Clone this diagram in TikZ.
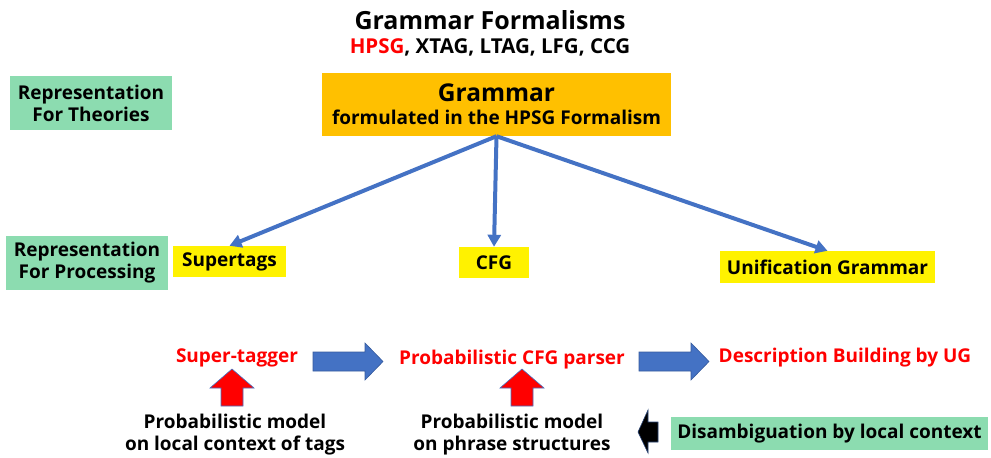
\documentclass[tikz,border=0pt]{standalone}
\usepackage{fontspec}
\setmainfont{Open Sans}
\usepackage{tikz}
\usetikzlibrary{arrows.meta,calc}
\usepackage{xcolor}
\definecolor{boxgreen}{HTML}{8CDCB0}
\definecolor{boxorange}{HTML}{FFC000}
\definecolor{arrowblue}{HTML}{4472C4}

\begin{document}
\begin{tikzpicture}[x=1pt,y=-1pt, >=Stealth,
  font=\fontsize{19}{22}\selectfont\bfseries,
  greenbox/.style={fill=boxgreen,inner sep=0pt,minimum width=162pt,minimum height=54pt,align=center},
  tagbox/.style={fill=yellow,inner sep=0pt,minimum height=31pt},
  redtext/.style={text=red},
  link/.style={arrowblue,line width=4pt,-{Triangle[length=12pt,width=13pt]}}]
\useasboundingbox (0,0) rectangle (991,458);
% top
\node (title) at (490,20) {\fontsize{25}{28}\selectfont Grammar Formalisms};
\node (formalisms) at (490,47) {\fontsize{20.5}{22}\selectfont\textcolor{red}{HPSG}, XTAG, LTAG, LFG, CCG};
\node[fill=boxorange,inner sep=0pt,minimum width=349pt,minimum height=63pt,align=center] (grammar) at (496.5,104.5)
  {\fontsize{24.5}{28}\selectfont Grammar\\[1pt] formulated in the HPSG Formalism};
\node[greenbox] (theories) at (91,103) {Representation\\For Theories};
% representations
\node[greenbox] (processing) at (87,263) {Representation\\For Processing};
\node[tagbox,minimum width=113pt] (supertags) at (229.5,261.5) {Supertags};
\node[tagbox,minimum width=70pt] (cfg) at (494,262.5) {CFG};
\node[tagbox,minimum width=215pt,minimum height=32pt] (ug) at (827.5,267) {Unification Grammar};
\foreach \t in {supertags,cfg,ug}
  {\draw[link] (grammar.south) -- (\t.north);}
% processing chain
\node[redtext] (tagger) at (237,358) {Super-tagger};
\node[redtext] (parser) at (512,360) {Probabilistic CFG parser};
\node[redtext] (builder) at (845,358) {Description Building by UG};
\node[align=center] (tagmodel) at (235,435) {Probabilistic model\\on local context of tags};
\node[align=center] (phrasemodel) at (512,435) {Probabilistic model\\on phrase structures};
\node[fill=boxgreen,inner sep=0pt,minimum width=317pt,minimum height=33pt] (disamb) at (829.5,433.5)
  {Disambiguation by local context};
% block arrows
\foreach \x in {313,639}
  {\filldraw[fill=arrowblue,draw=arrowblue!80!black,line width=0.6pt]
    (\x,352) -- ++(52,0) -- ++(0,-9) -- ++(18,18.5) -- ++(-18,18.5) -- ++(0,-9) -- ++(-52,0) -- cycle;}
\foreach \x in {232,522}
  {\filldraw[fill=red,draw=arrowblue,line width=0.6pt]
    (\x,369) -- ++(22,19) -- ++(-11,0) -- ++(0,18) -- ++(-22,0) -- ++(0,-18) -- ++(-11,0) -- cycle;}
\filldraw[fill=black,draw=arrowblue!60!black,line width=0.6pt]
  (638,432) -- (648,410) -- (648,422) -- (658,422) -- (658,442) -- (648,442) -- (648,453) -- cycle;
\end{tikzpicture}
\end{document}
